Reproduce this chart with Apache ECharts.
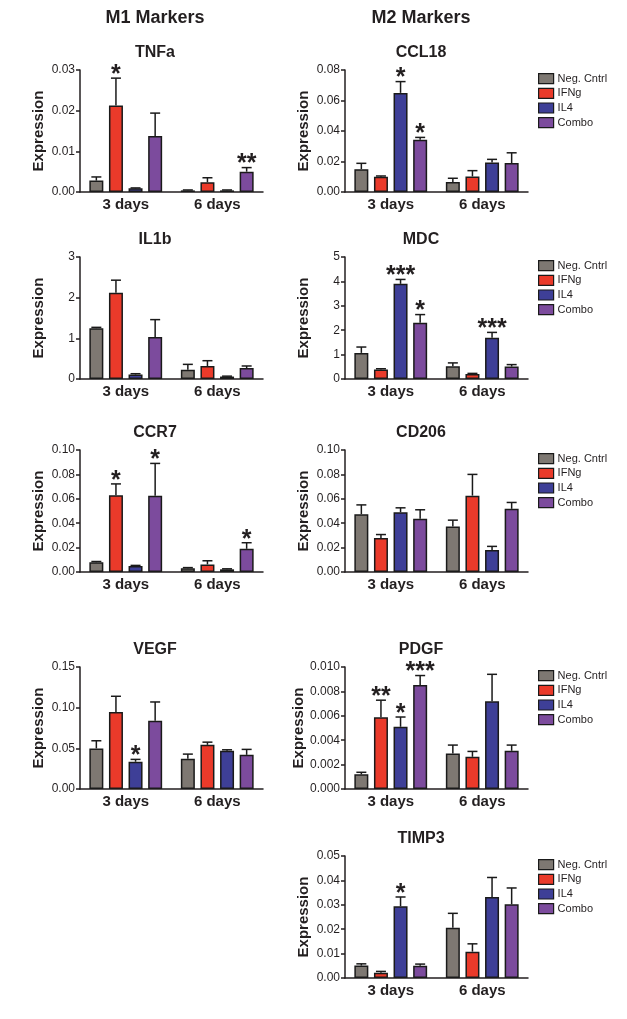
<!DOCTYPE html>
<html><head><meta charset="utf-8">
<script src="https://cdn.jsdelivr.net/npm/echarts@6/dist/echarts.min.js"></script>
<style>html,body{margin:0;padding:0;background:#fff}#c{width:627px;height:1019px}</style>
</head><body><div id="c"></div>
<script>
// ---------- data ----------
const groups = ['3 days', '6 days'];
const treatments = ['Neg. Cntrl', 'IFNg', 'IL4', 'Combo'];
const colors = ['#7e7872', '#ea3a2a', '#3e3f97', '#7c4b9d'];
const colHeaders = ['M1 Markers', 'M2 Markers'];

// per treatment: [3 days, 6 days]
const tnfaMean = [[0.0028, 0.0004], [0.0213, 0.0024], [0.0009, 0.0004], [0.0138, 0.0050]];
const tnfaErr  = [[0.0009, 0.0001], [0.0067, 0.0011], [0.0001, 0.0001], [0.0056, 0.0010]];
const tnfaStars = [['', ''], ['*', ''], ['', ''], ['', '**']];
const tnfaTicks = ['0.00', '0.01', '0.02', '0.03'];

const ccl18Mean = [[0.0150, 0.0065], [0.0100, 0.0102], [0.0650, 0.0194], [0.0342, 0.0190]];
const ccl18Err  = [[0.0038, 0.0025], [0.0005, 0.0038], [0.0074, 0.0020], [0.0016, 0.0067]];
const ccl18Stars = [['', ''], ['', ''], ['*', ''], ['*', '']];
const ccl18Ticks = ['0.00', '0.02', '0.04', '0.06', '0.08'];

const il1bMean = [[1.25, 0.23], [2.12, 0.32], [0.11, 0.06], [1.03, 0.27]];
const il1bErr  = [[0.02, 0.13], [0.31, 0.13], [0.02, 0.01], [0.43, 0.05]];
const il1bStars = [['', ''], ['', ''], ['', ''], ['', '']];
const il1bTicks = ['0', '1', '2', '3'];

const mdcMean = [[1.07, 0.52], [0.39, 0.21], [3.90, 1.69], [2.31, 0.51]];
const mdcErr  = [[0.24, 0.14], [0.03, 0.02], [0.18, 0.22], [0.33, 0.08]];
const mdcStars = [['', ''], ['', ''], ['***', '***'], ['*', '']];
const mdcTicks = ['0', '1', '2', '3', '4', '5'];

const ccr7Mean = [[0.0080, 0.0030], [0.0630, 0.0062], [0.0050, 0.0022], [0.0625, 0.0190]];
const ccr7Err  = [[0.0006, 0.0006], [0.0092, 0.0030], [0.0004, 0.0004], [0.0265, 0.0050]];
const ccr7Stars = [['', ''], ['*', ''], ['', ''], ['*', '*']];
const ccr7Ticks = ['0.00', '0.02', '0.04', '0.06', '0.08', '0.10'];

const cd206Mean = [[0.0474, 0.0373], [0.0278, 0.0626], [0.0490, 0.0180], [0.0436, 0.0518]];
const cd206Err  = [[0.0076, 0.0052], [0.0029, 0.0174], [0.0036, 0.0030], [0.0074, 0.0052]];
const cd206Stars = [['', ''], ['', ''], ['', ''], ['', '']];
const cd206Ticks = ['0.00', '0.02', '0.04', '0.06', '0.08', '0.10'];

const vegfMean = [[0.0499, 0.0372], [0.0948, 0.0543], [0.0335, 0.0470], [0.0838, 0.0420]];
const vegfErr  = [[0.0094, 0.0057], [0.0192, 0.0033], [0.0029, 0.0012], [0.0232, 0.0067]];
const vegfStars = [['', ''], ['', ''], ['*', ''], ['', '']];
const vegfTicks = ['0.00', '0.05', '0.10', '0.15'];

const pdgfMean = [[0.00120, 0.00292], [0.00589, 0.00264], [0.00510, 0.00720], [0.00853, 0.00313]];
const pdgfErr  = [[0.00017, 0.00068], [0.00139, 0.00044], [0.00080, 0.00220], [0.00077, 0.00047]];
const pdgfStars = [['', ''], ['**', ''], ['*', ''], ['***', '']];
const pdgfTicks = ['0.000', '0.002', '0.004', '0.006', '0.008', '0.010'];

const timp3Mean = [[0.0051, 0.0206], [0.0022, 0.0108], [0.0294, 0.0332], [0.0050, 0.0302]];
const timp3Err  = [[0.0007, 0.0059], [0.0005, 0.0032], [0.0038, 0.0080], [0.0007, 0.0067]];
const timp3Stars = [['', ''], ['', ''], ['*', ''], ['', '']];
const timp3Ticks = ['0.00', '0.01', '0.02', '0.03', '0.04', '0.05'];

// ---------- layout ----------
const FONT = "'Liberation Sans', Arial, sans-serif";
const INK = '#231f20';
const colLeft = [80, 345];
const titleX = [155, 421];
const rowTop = [70, 257, 450, 667, 856];
const plotW = 183, plotH = 122;
const barW = 14, gapRatio = 0.4;
const pitch = barW * (1 + gapRatio);

const panels = [
  { title: 'TNFa',  col: 0, row: 0, mean: tnfaMean,  err: tnfaErr,  stars: tnfaStars,  ticks: tnfaTicks,  legend: false },
  { title: 'CCL18', col: 1, row: 0, mean: ccl18Mean, err: ccl18Err, stars: ccl18Stars, ticks: ccl18Ticks, legend: true },
  { title: 'IL1b',  col: 0, row: 1, mean: il1bMean,  err: il1bErr,  stars: il1bStars,  ticks: il1bTicks,  legend: false },
  { title: 'MDC',   col: 1, row: 1, mean: mdcMean,   err: mdcErr,   stars: mdcStars,   ticks: mdcTicks,   legend: true },
  { title: 'CCR7',  col: 0, row: 2, mean: ccr7Mean,  err: ccr7Err,  stars: ccr7Stars,  ticks: ccr7Ticks,  legend: false },
  { title: 'CD206', col: 1, row: 2, mean: cd206Mean, err: cd206Err, stars: cd206Stars, ticks: cd206Ticks, legend: true },
  { title: 'VEGF',  col: 0, row: 3, mean: vegfMean,  err: vegfErr,  stars: vegfStars,  ticks: vegfTicks,  legend: false },
  { title: 'PDGF',  col: 1, row: 3, mean: pdgfMean,  err: pdgfErr,  stars: pdgfStars,  ticks: pdgfTicks,  legend: true },
  { title: 'TIMP3', col: 1, row: 4, mean: timp3Mean, err: timp3Err, stars: timp3Stars, ticks: timp3Ticks, legend: true }
];

const grid = [], xAxis = [], yAxis = [], series = [], legend = [];
const graphic = [];

colHeaders.forEach((t, c) => {
  graphic.push({ type: 'text', x: titleX[c], y: 18,
    style: { text: t, font: 'bold 18px ' + FONT, fill: INK, align: 'center', verticalAlign: 'middle', textAlign: 'center', textVerticalAlign: 'middle' } });
});

panels.forEach((p, k) => {
  const top = rowTop[p.row], left = colLeft[p.col];
  grid.push({ left: left, top: top, width: plotW, height: plotH, containLabel: false });
  graphic.push({ type: 'text', x: titleX[p.col], y: top - 17,
    style: { text: p.title, font: 'bold 16px ' + FONT, fill: INK, align: 'center', verticalAlign: 'middle', textAlign: 'center', textVerticalAlign: 'middle' } });
  xAxis.push({ type: 'category', gridIndex: k, data: groups, boundaryGap: true,
    axisLine: { lineStyle: { color: INK, width: 1.5 } },
    axisTick: { alignWithLabel: true, length: 4, lineStyle: { color: INK, width: 1.5 } },
    axisLabel: { color: INK, fontFamily: FONT, fontWeight: 'bold', fontSize: 15, margin: 5 } });
  const ticks = p.ticks;
  const interval = Number(ticks[1]);
  const max = Number(ticks[ticks.length - 1]);
  yAxis.push({ type: 'value', gridIndex: k, min: 0, max: max, interval: interval,
    name: 'Expression', nameLocation: 'middle', nameGap: 34,
    nameTextStyle: { color: INK, fontFamily: FONT, fontWeight: 'bold', fontSize: 15 },
    axisLine: { show: true, lineStyle: { color: INK, width: 1.5 } },
    axisTick: { show: true, length: 4, lineStyle: { color: INK, width: 1.5 } },
    splitLine: { show: false },
    axisLabel: { color: INK, fontFamily: FONT, fontSize: 12, margin: 5,
      formatter: v => ticks[Math.round(v / interval)] } });

  treatments.forEach((t, i) => {
    series.push({ type: 'bar', name: t, xAxisIndex: k, yAxisIndex: k,
      data: p.mean[i], barWidth: barW, barGap: (gapRatio * 100) + '%',
      itemStyle: { color: colors[i], borderColor: '#1a1a1a', borderWidth: 1.5 },
      emphasis: { disabled: true }, z: 2 });
  });

  const ebData = [];
  treatments.forEach((t, i) => {
    groups.forEach((g, j) => { ebData.push([j, p.mean[i][j], p.mean[i][j] + p.err[i][j], i]); });
  });
  const starsFlat = [];
  treatments.forEach((t, i) => groups.forEach((g, j) => starsFlat.push(p.stars[i][j])));
  series.push({ type: 'custom', xAxisIndex: k, yAxisIndex: k, data: ebData, z: 3,
    encode: { x: 0, y: [1, 2] }, silent: true,
    renderItem: (params, api) => {
      const cat = api.value(0), m = api.value(1), hi = api.value(2), ti = api.value(3);
      const b = api.coord([cat, m]);
      const h = api.coord([cat, hi]);
      const x = b[0] + (ti - 1.5) * pitch;
      const ls = { stroke: '#1a1a1a', lineWidth: 1.5 };
      const children = [
        { type: 'line', shape: { x1: x, y1: b[1], x2: x, y2: h[1] }, style: ls },
        { type: 'line', shape: { x1: x - 5, y1: h[1], x2: x + 5, y2: h[1] }, style: ls }
      ];
      const s = starsFlat[params.dataIndex];
      if (s) {
        children.push({ type: 'text', x: x, y: h[1] - 3,
          style: { text: s, font: 'bold 25px ' + FONT, fill: INK, align: 'center', verticalAlign: 'middle', textAlign: 'center', textVerticalAlign: 'middle' } });
      }
      return { type: 'group', children: children };
    } });

  if (p.legend) {
    legend.push({ orient: 'vertical', left: 538, top: top + 3, padding: 0, itemWidth: 15, itemHeight: 10, itemGap: 3.5,
      icon: 'rect', data: treatments, selectedMode: false,
      itemStyle: { borderColor: '#1a1a1a', borderWidth: 1.2 },
      textStyle: { color: INK, fontFamily: FONT, fontSize: 11, padding: [0, 0, 0, -1] } });
  }
});

const chart = echarts.init(document.getElementById('c'), null, { renderer: 'canvas' });
chart.setOption({ animation: false, backgroundColor: '#fff', grid, xAxis, yAxis, series, legend, graphic });
</script></body></html>
